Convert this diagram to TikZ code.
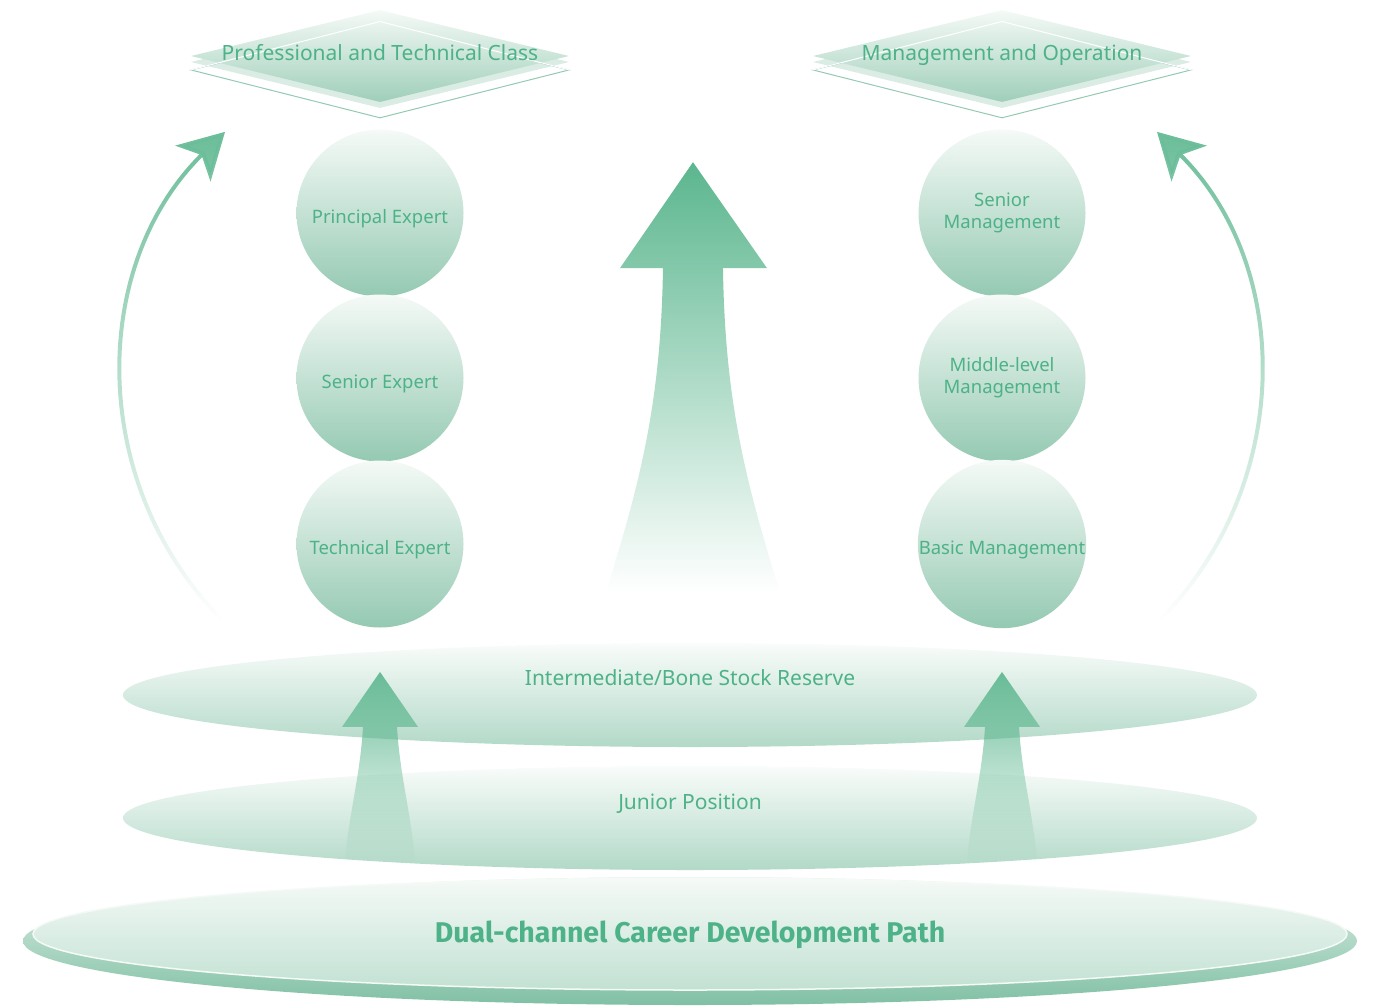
\documentclass[tikz,border=0pt]{standalone}
\usepackage{fontspec}
\setmainfont{Noto Sans}
\newfontfamily\titlefont{Fira Sans}
\usetikzlibrary{arrows.meta,shapes.geometric,fadings}
\definecolor{pathgreen}{HTML}{4DB287}
\definecolor{leafgreen}{HTML}{5BB68E}
\definecolor{mintdark}{HTML}{94C9B2}
\definecolor{mintmid}{HTML}{B2D9C8}
\definecolor{mintpale}{HTML}{F5FAF7}
\definecolor{basedark}{HTML}{80C0A4}
\definecolor{baselight}{HTML}{C2E1D3}
\tikzfading[name=fadeup, top color=transparent!0, bottom color=transparent!100]

\begin{document}
\begin{tikzpicture}[x=1pt,y=-1pt,
    tier/.style={ellipse,inner sep=0pt,minimum width=1134pt,minimum height=104pt,top color=mintpale!60!white,bottom color=mintmid},
    rung/.style={circle,inner sep=0pt,minimum size=167pt,top color=mintpale,bottom color=mintdark,text=pathgreen,font=\fontsize{18.5}{22}\selectfont,align=center},
    oneline/.style={text height=25pt,text depth=4pt},
    rhomb/.style={diamond,inner sep=0pt,minimum width=378pt,minimum height=92pt},
    caption/.style={text=pathgreen,font=\fontsize{21}{25}\selectfont},
    risearrow/.style={fill=leafgreen,path fading=fadeup},
    sweep/.style={draw=leafgreen!90,line width=4pt,path fading=fadeup,-{Stealth[length=45pt,width=50pt,inset=12pt]}}
]
\useasboundingbox (0,0) rectangle (1380,1007);

% levels
\node[tier] (reserve) at (690,695) {};
\node[caption] (reserve-text) at (690,678) {Intermediate/Bone Stock Reserve};
\node[tier] (junior) at (690,818) {};
\node[caption] (junior-text) at (690,804) {Junior Position};
\node[ellipse,inner sep=0pt,minimum width=1334pt,minimum height=128pt,top color=mintpale!70!mintmid,bottom color=basedark] (baseout) at (690,941) {};
\node[ellipse,inner sep=0pt,minimum width=1314pt,minimum height=112pt,top color=mintpale,bottom color=baselight,draw=mintpale,line width=1.5pt] (base) at (690,934) {};
\node[text=pathgreen,font=\titlefont\bfseries\fontsize{28.5}{32}\selectfont] (base-text) at (690,935) {Dual-channel Career Development Path};

% small arrows
\foreach \cx/\nm in {380/lift, 1002/climb}{
  \coordinate (\nm) at (\cx,672);
  \fill[risearrow,fill opacity=0.9] (\nm) -- ++(38,55) -- ++(-21,0)
    .. controls ++(3,50) and ++(-4,-50) .. ++(18,135) -- ++(-70,0)
    .. controls ++(4,-50) and ++(-3,50) .. ++(18,-135) -- ++(-21,0) -- cycle;
}

% central arrow
\coordinate (peak) at (693,162);
\fill[risearrow] (peak) -- (767,268) -- (723,268)
  .. controls (725,400) and (745,480) .. (780,592) -- (606,592)
  .. controls (641,480) and (661,400) .. (663,268) -- (620,268) -- cycle;

% side sweeps
\coordinate (sweepL) at (222,620);
\coordinate (tipL) at (225,132);
\coordinate (sweepR) at (1160,620);
\coordinate (tipR) at (1157,132);
\draw[sweep] (sweepL) .. controls (88,484) and (89,266) .. (tipL);
\draw[sweep] (sweepR) .. controls (1294,484) and (1293,266) .. (tipR);

% channel headers
\foreach \cx/\nm/\txt in {380/proclass/Professional and Technical Class, 1002/mgmt/Management and Operation}{
  \node[rhomb,draw=mintdark,line width=1pt,minimum height=96pt] (\nm-frame) at (\cx,70) {};
  \node[rhomb,fill=mintdark,fill opacity=0.35] (\nm-mid) at (\cx,62) {};
  \node[rhomb,top color=mintpale,bottom color=mintdark!90] (\nm) at (\cx,56) {};
  \draw[white,line width=1pt] (\nm-frame.west) -- (\nm-frame.north) -- (\nm-frame.east);
  \node[caption,anchor=base] (\nm-text) at (\cx,60) {\txt};
}

% rungs
\node[rung,oneline] (principal) at (380,213) {Principal Expert};
\node[rung,oneline] (senior) at (380,378) {Senior Expert};
\node[rung,oneline] (technical) at (380,544) {Technical Expert};
\node[rung] (seniorm) at (1002,213) {Senior\\Management};
\node[rung] (middle) at (1002,378) {Middle-level\\Management};
\node[rung,oneline] (basic) at (1002,544) {Basic Management};
\end{tikzpicture}
\end{document}
